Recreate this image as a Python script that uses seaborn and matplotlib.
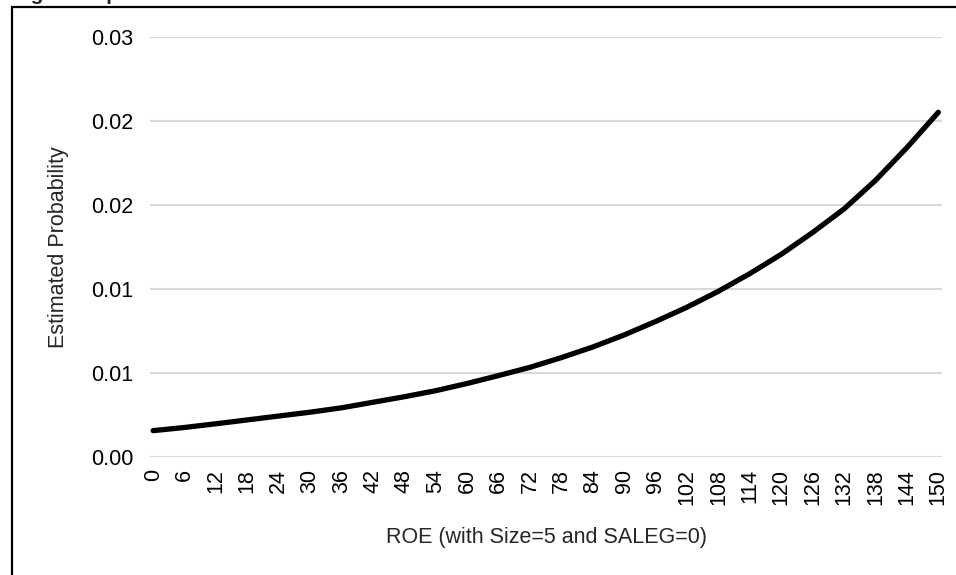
import numpy as np
import pandas as pd
import matplotlib.pyplot as plt
import matplotlib.patches as patches
import seaborn as sns

# ROE values (category labels shown every 6) and estimated probability
roe = [0, 6, 12, 18, 24, 30, 36, 42, 48, 54, 60, 66, 72,
       78, 84, 90, 96, 102, 108, 114, 120, 126, 132, 138, 144, 150]
prob = [0.00155, 0.00174, 0.00196, 0.00219, 0.00242, 0.00265, 0.00291,
        0.00324, 0.00357, 0.00393, 0.00436, 0.00483, 0.00532, 0.00590,
        0.00653, 0.00725, 0.00805, 0.00890, 0.00985, 0.01090, 0.01205,
        0.01335, 0.01475, 0.01645, 0.01840, 0.02050]

y_ticks = [0.0, 0.005, 0.010, 0.015, 0.020, 0.025]
y_labels = ['0.00', '0.01', '0.01', '0.02', '0.02', '0.03']

x_title = 'ROE (with Size=5 and SALEG=0)'
y_title = 'Estimated Probability'
fig_title = 'Figure 4: predicted'

sns.set_style('white')
plt.rcParams['font.family'] = ['Liberation Sans', 'DejaVu Sans']

df = pd.DataFrame({'roe': roe, 'prob': prob})

fig = plt.figure(figsize=(9.56, 5.75), dpi=100)
ax = fig.add_axes([150 / 956, 1 - 456.7 / 575, (942 - 150) / 956, (456.7 - 36.7) / 575])

sns.lineplot(data=df, x='roe', y='prob', ax=ax, color='black', linewidth=3.8,
             solid_capstyle='round', solid_joinstyle='round')

ax.set_xlim(-0.6, 150.7)
ax.set_ylim(0, 0.025)
ax.set_yticks(y_ticks)
ax.set_yticklabels(y_labels)
ax.set_xticks(roe)
ax.set_xticklabels([str(v) for v in roe], rotation=90)
ax.tick_params(axis='both', length=0, labelsize=15.5, colors='black')
ax.tick_params(axis='y', pad=12)
ax.tick_params(axis='x', pad=9)
ax.grid(True, axis='y', color='#d9d9d9', linewidth=1.5)
ax.set_axisbelow(True)
for s in ax.spines.values():
    s.set_visible(False)

ax.set_xlabel(x_title, fontsize=15.5, labelpad=16)
ax.set_ylabel(y_title, fontsize=15.5, labelpad=16)

# outer frame, cut off at right and bottom like the source
fig.patches.append(patches.Rectangle((11.5 / 956, -0.1), 1.2, 1 - 6.5 / 575 + 0.1,
                                     transform=fig.transFigure, fill=False,
                                     edgecolor='black', linewidth=1.6))
fig.text(12 / 956, 1.0, fig_title, fontsize=15, fontweight='bold',
         va='baseline', ha='left')

fig.savefig('out.png', dpi=100)
